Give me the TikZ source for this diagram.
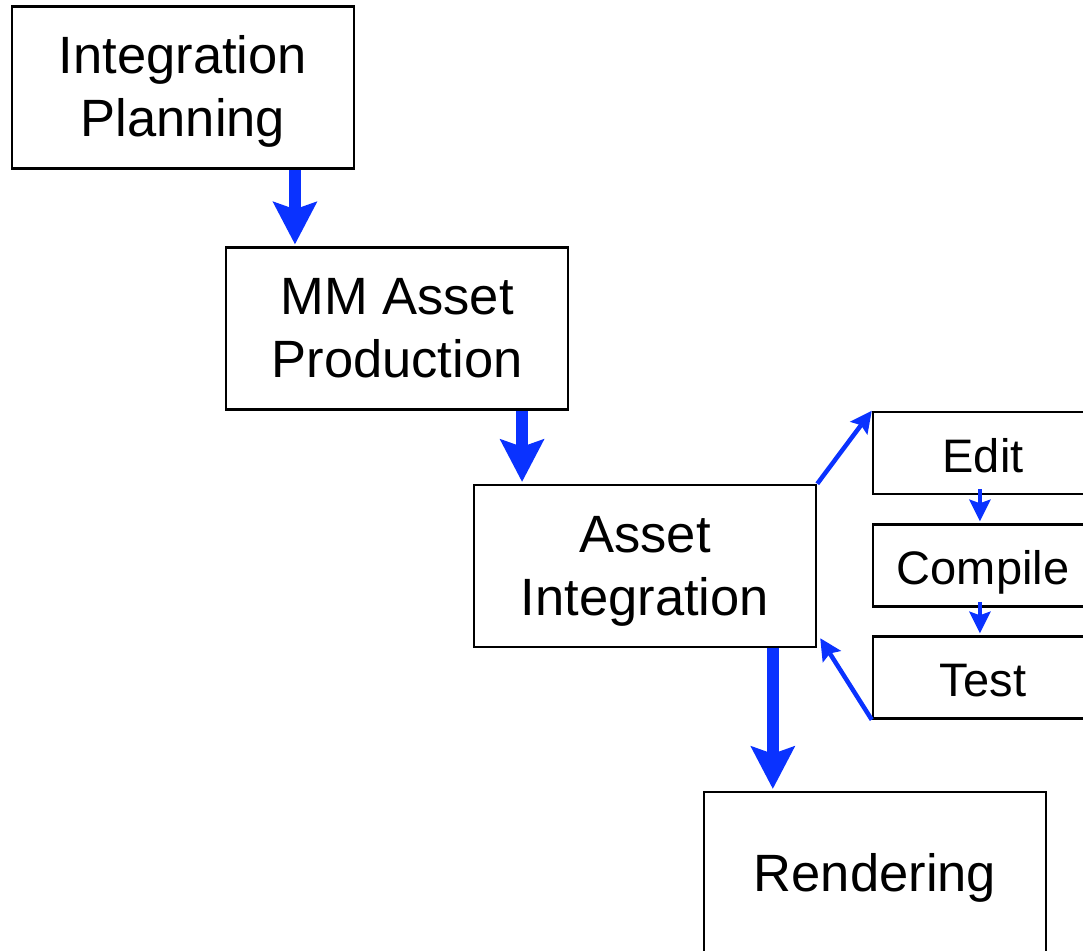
\documentclass[tikz,border=0pt]{standalone}
\usepackage{fontspec}
\setmainfont{Liberation Sans}
\usetikzlibrary{arrows.meta,calc}
\definecolor{flowblue}{RGB}{10,50,255}
% set a label a little below the optical centre, keeping its box size
\newcommand{\lowlabel}[2][5pt]{\raisebox{-#1}[\height][\depth]{\begin{tabular}{@{}c@{}}#2\end{tabular}}}
\begin{document}
\begin{tikzpicture}[x=1pt,y=-1pt,
  stage/.style={draw=black, line width=2.5pt, minimum width=342pt, minimum height=162pt,
    inner sep=0pt, font=\fontsize{52.5}{63}\selectfont},
  substage/.style={draw=black, line width=2.5pt, minimum width=220pt, minimum height=82pt,
    inner sep=0pt, font=\fontsize{47}{56}\selectfont},
  bigflow/.style={color=flowblue, line width=12pt,
    -{Stealth[length=43pt,width=45pt,inset=8pt,line width=0pt]}},
  smallflow/.style={color=flowblue, line width=4.5pt,
    -{Stealth[length=22pt,width=22pt,inset=4pt,line width=0pt]}}]
\useasboundingbox (0,0) rectangle (1083,950);
\clip (0,0) rectangle (1083,950);

% main stages
\node[stage] (plan) at (183,87.5) {\lowlabel{Integration\\Planning}};
\node[stage] (mm) at (397,328.5) {\lowlabel{MM Asset\\Production}};
\node[stage] (ai) at (645,566) {\lowlabel{Asset\\Integration}};
\node[stage, minimum height=164pt] (rend) at (875,874) {\lowlabel{Rendering}};

% edit / compile / test loop
\node[substage] (edit) at (983,453) {\lowlabel[8pt]{Edit}};
\node[substage] (comp) at (983,565.5) {\lowlabel[8pt]{Compile}};
\node[substage] (test) at (983,677.5) {\lowlabel[8pt]{Test}};

% main flow
\coordinate (a1) at ($(plan.south west)!0.825!(plan.south east)$);
\coordinate (a2) at ($(mm.south west)!0.863!(mm.south east)$);
\coordinate (a3) at ($(ai.south west)!0.871!(ai.south east)$);
\draw[bigflow] (a1) -- ($(a1 |- mm.north)+(0,-2)$);
\draw[bigflow] (a2) -- ($(a2 |- ai.north)+(0,-2)$);
\draw[bigflow] (a3) -- ($(a3 |- rend.north)+(0,-2)$);

% inner loop
\coordinate (e1) at ($(edit.south west)!0.486!(edit.south east)+(0,-6)$);
\coordinate (c1) at ($(comp.south west)!0.486!(comp.south east)+(0,-6)$);
\coordinate (aiin) at ($(ai.south east)+(3,-10)$);
\draw[smallflow] (ai.north east) -- (edit.north west);
\draw[smallflow] (e1) -- ($(e1 |- comp.north)+(0,-2)$);
\draw[smallflow] (c1) -- ($(c1 |- test.north)+(0,-2)$);
\draw[smallflow] (test.south west) -- (aiin);
\end{tikzpicture}
\end{document}
